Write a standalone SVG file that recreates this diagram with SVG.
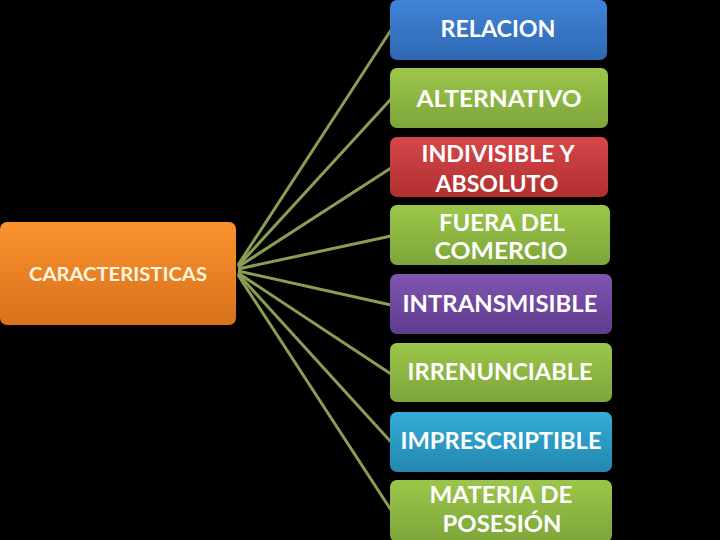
<svg xmlns="http://www.w3.org/2000/svg" width="720" height="540" viewBox="0 0 720 540">
<defs>
<linearGradient id="gBlue" x1="0" y1="0" x2="0" y2="1"><stop offset="0" stop-color="#3f84d6"/><stop offset="1" stop-color="#2f68b4"/></linearGradient>
<linearGradient id="gGreen" x1="0" y1="0" x2="0" y2="1"><stop offset="0" stop-color="#9cc64a"/><stop offset="1" stop-color="#7ea53a"/></linearGradient>
<linearGradient id="gRed" x1="0" y1="0" x2="0" y2="1"><stop offset="0" stop-color="#d6474a"/><stop offset="1" stop-color="#b0302f"/></linearGradient>
<linearGradient id="gPurple" x1="0" y1="0" x2="0" y2="1"><stop offset="0" stop-color="#7f55b0"/><stop offset="1" stop-color="#5f3c8e"/></linearGradient>
<linearGradient id="gCyan" x1="0" y1="0" x2="0" y2="1"><stop offset="0" stop-color="#33aed8"/><stop offset="1" stop-color="#2486ae"/></linearGradient>
<linearGradient id="gOrange" x1="0" y1="0" x2="0" y2="1"><stop offset="0" stop-color="#fa922e"/><stop offset="1" stop-color="#d8721c"/></linearGradient>
</defs>
<style>
.box{rx:7px;ry:7px}
.t{font-family:Lato,"Liberation Sans",sans-serif;font-size:22px;font-weight:bold;fill:#ffffff;text-anchor:middle}
.c{stroke:#8a9d55;stroke-width:3;fill:none}
</style>
<rect x="0" y="0" width="720" height="540" fill="#000000"/>
<g id="connectors">
<line class="c" x1="238" y1="265" x2="391" y2="30"/>
<line class="c" x1="238" y1="266" x2="391" y2="99"/>
<line class="c" x1="238" y1="267" x2="391" y2="168"/>
<line class="c" x1="238" y1="269" x2="391" y2="236"/>
<line class="c" x1="238" y1="271" x2="391" y2="305"/>
<line class="c" x1="238" y1="273" x2="391" y2="374"/>
<line class="c" x1="238" y1="274" x2="391" y2="442"/>
<line class="c" x1="238" y1="275" x2="391" y2="510"/>
</g>
<g id="caracteristicas">
<rect class="box" x="0" y="222" width="236" height="103" fill="url(#gOrange)"/>
<text class="t" x="118" y="281" style="font-size:19px;fill:#fff6e0" textLength="178" lengthAdjust="spacingAndGlyphs">CARACTERISTICAS</text>
</g>
<g id="relacion">
<rect class="box" x="390" y="0" width="217" height="60" fill="url(#gBlue)"/>
<text class="t" x="498" y="37" textLength="115" lengthAdjust="spacingAndGlyphs">RELACION</text>
</g>
<g id="alternativo">
<rect class="box" x="390" y="68" width="218" height="60" fill="url(#gGreen)"/>
<text class="t" x="499" y="107" textLength="165" lengthAdjust="spacingAndGlyphs">ALTERNATIVO</text>
</g>
<g id="indivisible">
<rect class="box" x="390" y="137" width="218" height="60" fill="url(#gRed)"/>
<text class="t" x="498" y="162" textLength="153" lengthAdjust="spacingAndGlyphs">INDIVISIBLE Y</text>
<text class="t" x="497" y="192" textLength="123" lengthAdjust="spacingAndGlyphs">ABSOLUTO</text>
</g>
<g id="fuera">
<rect class="box" x="390" y="205" width="220" height="60" fill="url(#gGreen)"/>
<text class="t" x="502" y="231" textLength="126" lengthAdjust="spacingAndGlyphs">FUERA DEL</text>
<text class="t" x="501" y="259" textLength="133" lengthAdjust="spacingAndGlyphs">COMERCIO</text>
</g>
<g id="intransmisible">
<rect class="box" x="390" y="274" width="222" height="60" fill="url(#gPurple)"/>
<text class="t" x="500" y="312" textLength="195" lengthAdjust="spacingAndGlyphs">INTRANSMISIBLE</text>
</g>
<g id="irrenunciable">
<rect class="box" x="390" y="343" width="222" height="59" fill="url(#gGreen)"/>
<text class="t" x="500" y="380" textLength="185" lengthAdjust="spacingAndGlyphs">IRRENUNCIABLE</text>
</g>
<g id="imprescriptible">
<rect class="box" x="390" y="412" width="222" height="60" fill="url(#gCyan)"/>
<text class="t" x="501" y="449" textLength="201" lengthAdjust="spacingAndGlyphs">IMPRESCRIPTIBLE</text>
</g>
<g id="materia">
<rect class="box" x="390" y="480" width="222" height="62" fill="url(#gGreen)"/>
<text class="t" x="501" y="503" textLength="143" lengthAdjust="spacingAndGlyphs">MATERIA DE</text>
<text class="t" x="502" y="532" textLength="119" lengthAdjust="spacingAndGlyphs">POSESIÓN</text>
</g>
</svg>
